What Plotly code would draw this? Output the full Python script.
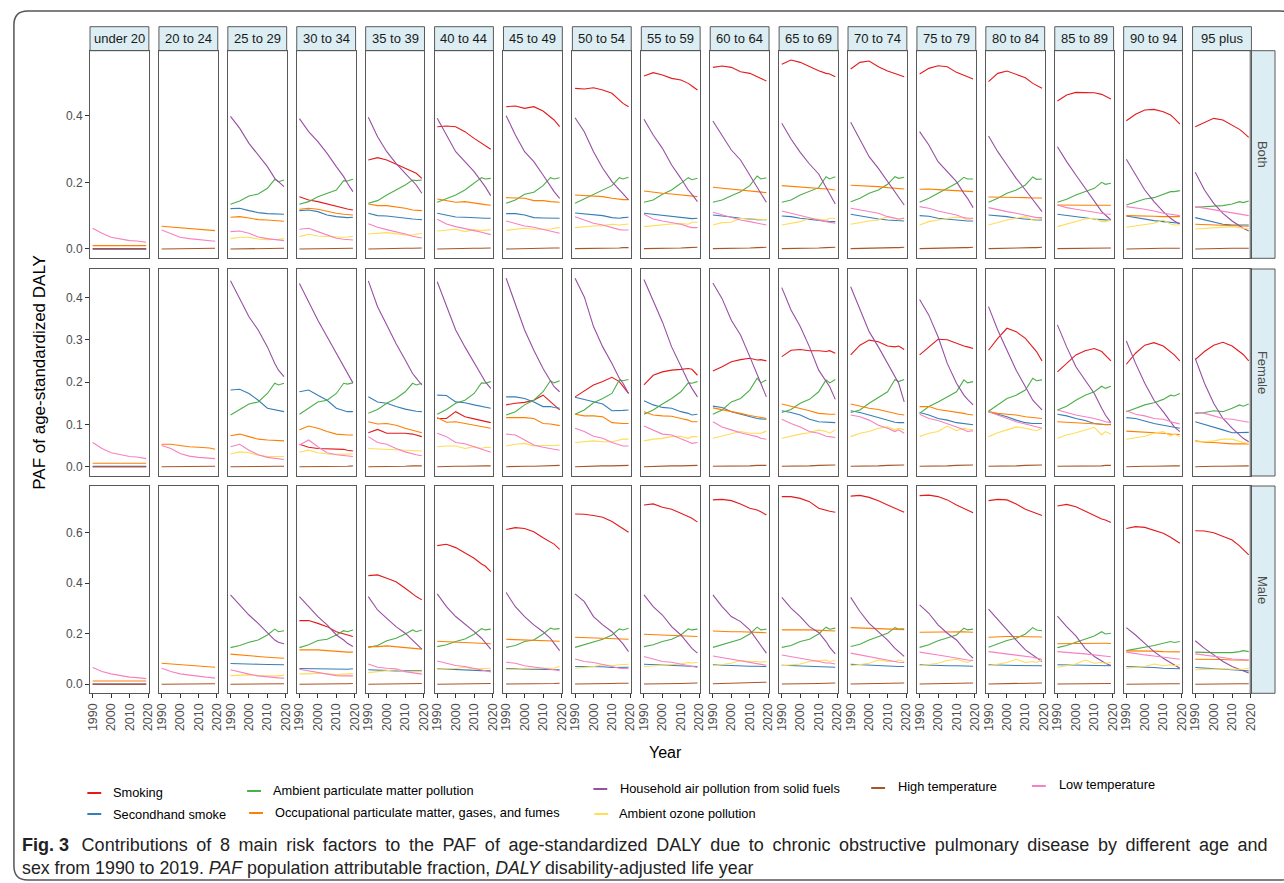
import plotly.graph_objects as go

W, H = 1284, 883

YEARS = [1990, 1995, 2000, 2005, 2010, 2014, 2016, 2019]
AGE_GROUPS = ["under 20", "20 to 24", "25 to 29", "30 to 34", "35 to 39", "40 to 44",
              "45 to 49", "50 to 54", "55 to 59", "60 to 64", "65 to 69", "70 to 74",
              "75 to 79", "80 to 84", "85 to 89", "90 to 94", "95 plus"]
SEXES = ["Both", "Female", "Male"]
RISKS = ["Smoking", "Secondhand smoke", "Ambient particulate matter pollution",
         "Occupational particulate matter, gases, and fumes",
         "Household air pollution from solid fuels", "Ambient ozone pollution",
         "High temperature", "Low temperature"]
COLORS = ["#E41A1C", "#377EB8", "#4DAF4A", "#FF7F00", "#984EA3", "#FFDD55", "#A65628", "#F781BF"]
X_TICKS = [1990, 2000, 2010, 2020]
Y_TICKS = {"Both": [0.0, 0.2, 0.4], "Female": [0.0, 0.1, 0.2, 0.3, 0.4], "Male": [0.0, 0.2, 0.4, 0.6]}

# ---------------- Both ----------------
BOTH_SMOKING = [None, None, None,
    [0.157,0.147,0.142,0.135,0.127,0.122,0.120,0.117],
    [0.267,0.274,0.267,0.255,0.242,0.232,0.227,0.212],
    [0.367,0.369,0.367,0.352,0.332,0.317,0.310,0.299],
    [0.427,0.429,0.422,0.427,0.414,0.397,0.387,0.367],
    [0.482,0.480,0.484,0.477,0.467,0.447,0.437,0.427],
    [0.519,0.529,0.522,0.512,0.507,0.497,0.489,0.477],
    [0.545,0.549,0.545,0.532,0.527,0.517,0.512,0.504],
    [0.554,0.567,0.560,0.547,0.535,0.527,0.525,0.517],
    [0.540,0.560,0.564,0.547,0.534,0.527,0.524,0.517],
    [0.525,0.542,0.550,0.547,0.530,0.522,0.517,0.510],
    [0.502,0.527,0.534,0.524,0.514,0.497,0.490,0.482],
    [0.444,0.462,0.470,0.470,0.469,0.464,0.459,0.450],
    [0.385,0.404,0.417,0.419,0.412,0.402,0.392,0.375],
    [0.367,0.380,0.392,0.387,0.372,0.359,0.350,0.335]]
BOTH_SECONDHAND = [
    [0.001,0.001,0.001,0.001,0.001,0.001,0.001,0.001], None,
    [0.121,0.122,0.115,0.109,0.106,0.105,0.105,0.104],
    [0.115,0.117,0.112,0.102,0.097,0.095,0.094,0.095],
    [0.107,0.100,0.099,0.095,0.092,0.090,0.089,0.088],
    [0.107,0.102,0.096,0.095,0.093,0.092,0.092,0.092],
    [0.106,0.106,0.102,0.094,0.093,0.092,0.092,0.092],
    [0.108,0.106,0.104,0.100,0.094,0.092,0.094,0.095],
    [0.107,0.104,0.100,0.097,0.094,0.092,0.091,0.092],
    [0.102,0.100,0.096,0.092,0.089,0.088,0.088,0.088],
    [0.099,0.097,0.092,0.089,0.084,0.082,0.082,0.082],
    [0.104,0.099,0.094,0.090,0.087,0.085,0.084,0.084],
    [0.100,0.098,0.092,0.089,0.086,0.084,0.084,0.084],
    [0.102,0.100,0.097,0.092,0.089,0.087,0.087,0.087],
    [0.104,0.100,0.097,0.094,0.090,0.088,0.087,0.086],
    [0.099,0.094,0.089,0.085,0.082,0.080,0.078,0.077],
    [0.094,0.087,0.080,0.074,0.072,0.071,0.071,0.072]]
BOTH_AMBIENT_PM = [None, None,
    [0.134,0.144,0.159,0.165,0.182,0.209,0.202,0.207],
    [0.134,0.142,0.157,0.167,0.177,0.205,0.204,0.209],
    [0.137,0.145,0.162,0.177,0.192,0.207,0.205,0.207],
    [0.140,0.152,0.162,0.177,0.197,0.214,0.210,0.212],
    [0.137,0.147,0.164,0.170,0.190,0.214,0.210,0.214],
    [0.137,0.150,0.162,0.177,0.190,0.214,0.210,0.215],
    [0.140,0.147,0.164,0.177,0.197,0.214,0.208,0.212],
    [0.140,0.147,0.160,0.172,0.190,0.219,0.210,0.214],
    [0.140,0.147,0.162,0.172,0.184,0.217,0.210,0.217],
    [0.142,0.152,0.167,0.177,0.194,0.217,0.212,0.215],
    [0.140,0.152,0.167,0.182,0.197,0.215,0.210,0.210],
    [0.140,0.152,0.167,0.177,0.192,0.216,0.209,0.210],
    [0.140,0.149,0.162,0.172,0.182,0.200,0.194,0.197],
    [0.132,0.142,0.150,0.154,0.164,0.172,0.172,0.175],
    [0.125,0.127,0.129,0.130,0.135,0.142,0.139,0.144]]
BOTH_OCCUPATIONAL = [
    [0.010,0.010,0.011,0.011,0.011,0.010,0.010,0.010],
    [0.068,0.066,0.062,0.061,0.060,0.058,0.057,0.055],
    [0.095,0.097,0.093,0.088,0.087,0.085,0.084,0.083],
    [0.119,0.122,0.119,0.112,0.107,0.104,0.103,0.102],
    [0.135,0.130,0.130,0.127,0.122,0.117,0.116,0.115],
    [0.150,0.144,0.140,0.142,0.137,0.134,0.133,0.131],
    [0.154,0.152,0.152,0.145,0.145,0.142,0.142,0.140],
    [0.162,0.160,0.157,0.157,0.152,0.149,0.148,0.148],
    [0.174,0.170,0.167,0.165,0.162,0.160,0.159,0.157],
    [0.185,0.182,0.179,0.177,0.174,0.172,0.170,0.169],
    [0.190,0.188,0.187,0.185,0.182,0.180,0.179,0.177],
    [0.191,0.190,0.188,0.187,0.184,0.182,0.181,0.180],
    [0.179,0.180,0.178,0.177,0.176,0.174,0.173,0.172],
    [0.156,0.156,0.155,0.154,0.154,0.153,0.153,0.153],
    [0.132,0.131,0.131,0.131,0.131,0.131,0.131,0.131],
    [0.100,0.100,0.099,0.098,0.097,0.097,0.097,0.097],
    [0.074,0.073,0.072,0.071,0.070,0.069,0.069,0.068]]
BOTH_HOUSEHOLD = [
    [0.000,0.000,0.000,0.000,0.000,0.000,0.000,0.000], None,
    [0.398,0.362,0.317,0.282,0.247,0.212,0.202,0.187],
    [0.391,0.352,0.322,0.287,0.247,0.217,0.197,0.172],
    [0.395,0.337,0.292,0.257,0.227,0.202,0.192,0.167],
    [0.392,0.342,0.292,0.262,0.232,0.202,0.187,0.160],
    [0.400,0.342,0.292,0.262,0.222,0.187,0.172,0.152],
    [0.394,0.352,0.292,0.242,0.202,0.177,0.167,0.147],
    [0.389,0.342,0.302,0.252,0.212,0.177,0.164,0.142],
    [0.384,0.342,0.297,0.267,0.222,0.182,0.167,0.140],
    [0.377,0.330,0.290,0.255,0.225,0.185,0.165,0.135],
    [0.380,0.327,0.277,0.242,0.202,0.172,0.157,0.132],
    [0.352,0.312,0.262,0.232,0.202,0.167,0.152,0.124],
    [0.339,0.292,0.252,0.212,0.177,0.147,0.132,0.112],
    [0.307,0.262,0.222,0.182,0.142,0.112,0.102,0.087],
    [0.269,0.222,0.177,0.142,0.112,0.092,0.084,0.075],
    [0.230,0.177,0.137,0.107,0.084,0.069,0.062,0.054]]
BOTH_OZONE = [None, None,
    [0.031,0.035,0.035,0.030,0.028,0.028,0.029,0.031],
    [0.037,0.044,0.039,0.037,0.035,0.035,0.036,0.038],
    [0.045,0.046,0.049,0.046,0.042,0.042,0.044,0.047],
    [0.054,0.057,0.059,0.052,0.058,0.055,0.057,0.058],
    [0.056,0.059,0.062,0.059,0.059,0.060,0.062,0.064],
    [0.064,0.067,0.069,0.070,0.074,0.072,0.074,0.075],
    [0.067,0.070,0.074,0.075,0.076,0.074,0.080,0.080],
    [0.072,0.079,0.080,0.092,0.090,0.090,0.089,0.088],
    [0.072,0.077,0.082,0.092,0.090,0.087,0.092,0.092],
    [0.074,0.080,0.084,0.087,0.097,0.092,0.087,0.094],
    [0.072,0.082,0.087,0.092,0.096,0.092,0.087,0.092],
    [0.072,0.080,0.087,0.092,0.097,0.087,0.087,0.092],
    [0.067,0.074,0.082,0.090,0.092,0.082,0.082,0.087],
    [0.065,0.069,0.072,0.077,0.087,0.075,0.072,0.072],
    [0.060,0.062,0.065,0.067,0.067,0.064,0.062,0.060]]
BOTH_HIGH_TEMP = [
    [0.000,0.000,0.000,0.000,0.000,0.000,0.000,0.000],
    [0.000,0.000,0.001,0.001,0.001,0.002,0.002,0.002],
    [0.000,0.000,0.001,0.001,0.001,0.002,0.002,0.002],
    [0.000,0.000,0.001,0.001,0.001,0.002,0.002,0.002],
    [0.000,0.001,0.001,0.001,0.002,0.002,0.002,0.003],
    [0.000,0.001,0.001,0.002,0.002,0.002,0.002,0.003],
    [0.000,0.001,0.001,0.002,0.002,0.003,0.003,0.003],
    [0.001,0.001,0.002,0.002,0.003,0.003,0.004,0.004],
    [0.001,0.001,0.002,0.002,0.003,0.004,0.004,0.005],
    [0.001,0.001,0.002,0.003,0.003,0.004,0.004,0.005],
    [0.001,0.001,0.002,0.003,0.003,0.004,0.004,0.005],
    [0.001,0.002,0.002,0.003,0.003,0.004,0.004,0.005],
    [0.001,0.002,0.002,0.003,0.003,0.004,0.004,0.005],
    [0.001,0.002,0.002,0.003,0.003,0.004,0.004,0.005],
    [0.001,0.001,0.002,0.002,0.002,0.003,0.003,0.003],
    [0.000,0.001,0.001,0.001,0.002,0.002,0.002,0.002],
    [0.000,0.001,0.001,0.001,0.002,0.002,0.002,0.002]]
BOTH_LOW_TEMP = [
    [0.062,0.047,0.035,0.029,0.025,0.024,0.023,0.020],
    [0.057,0.047,0.035,0.031,0.028,0.025,0.025,0.023],
    [0.052,0.054,0.047,0.036,0.031,0.028,0.027,0.025],
    [0.059,0.062,0.052,0.042,0.032,0.029,0.028,0.027],
    [0.076,0.065,0.058,0.052,0.045,0.038,0.036,0.033],
    [0.089,0.075,0.067,0.062,0.055,0.050,0.048,0.043],
    [0.084,0.077,0.069,0.065,0.059,0.054,0.052,0.047],
    [0.097,0.087,0.077,0.072,0.064,0.058,0.057,0.057],
    [0.104,0.090,0.084,0.079,0.074,0.067,0.064,0.064],
    [0.110,0.102,0.095,0.087,0.082,0.077,0.075,0.072],
    [0.114,0.107,0.099,0.094,0.087,0.082,0.080,0.077],
    [0.122,0.117,0.112,0.107,0.097,0.092,0.090,0.092],
    [0.127,0.122,0.114,0.109,0.102,0.094,0.092,0.092],
    [0.124,0.117,0.112,0.107,0.102,0.097,0.094,0.094],
    [0.132,0.124,0.119,0.114,0.110,0.107,0.105,0.104],
    [0.127,0.124,0.119,0.114,0.107,0.104,0.102,0.100],
    [0.127,0.122,0.117,0.112,0.107,0.104,0.102,0.100]]

# ---------------- Female ----------------
FEMALE_SMOKING = [None, None, None,
    [0.053,0.046,0.043,0.042,0.042,0.041,0.039,0.037],
    [0.080,0.088,0.079,0.079,0.079,0.077,0.075,0.071],
    [0.114,0.114,0.130,0.118,0.113,0.109,0.106,0.104],
    [0.146,0.150,0.152,0.157,0.169,0.153,0.146,0.134],
    [0.165,0.179,0.193,0.201,0.211,0.201,0.189,0.173],
    [0.193,0.216,0.224,0.228,0.230,0.232,0.230,0.216],
    [0.226,0.236,0.248,0.253,0.256,0.252,0.253,0.250],
    [0.260,0.275,0.277,0.274,0.274,0.272,0.274,0.268],
    [0.264,0.287,0.299,0.295,0.285,0.283,0.285,0.277],
    [0.264,0.283,0.301,0.300,0.291,0.285,0.283,0.279],
    [0.275,0.303,0.327,0.319,0.303,0.283,0.272,0.250],
    [0.224,0.244,0.264,0.274,0.279,0.272,0.264,0.250],
    [0.242,0.268,0.287,0.293,0.285,0.272,0.264,0.250],
    [0.253,0.272,0.287,0.294,0.285,0.272,0.265,0.250]]
FEMALE_SECONDHAND = [
    [0.001,0.001,0.001,0.001,0.001,0.001,0.001,0.001], None,
    [0.181,0.183,0.173,0.157,0.138,0.134,0.132,0.130],
    [0.177,0.181,0.169,0.157,0.138,0.132,0.130,0.130],
    [0.165,0.153,0.150,0.142,0.136,0.132,0.131,0.130],
    [0.169,0.168,0.153,0.151,0.146,0.142,0.140,0.138],
    [0.165,0.165,0.161,0.153,0.142,0.142,0.140,0.138],
    [0.164,0.159,0.153,0.148,0.132,0.132,0.133,0.134],
    [0.156,0.146,0.140,0.138,0.130,0.126,0.122,0.124],
    [0.143,0.140,0.130,0.124,0.118,0.114,0.113,0.112],
    [0.132,0.128,0.122,0.112,0.106,0.105,0.105,0.104],
    [0.132,0.128,0.122,0.116,0.109,0.105,0.104,0.104],
    [0.128,0.122,0.114,0.110,0.104,0.101,0.100,0.099],
    [0.130,0.124,0.118,0.110,0.104,0.102,0.102,0.102],
    [0.124,0.120,0.114,0.109,0.102,0.100,0.099,0.100],
    [0.116,0.114,0.108,0.102,0.098,0.094,0.093,0.091],
    [0.106,0.100,0.093,0.087,0.080,0.080,0.080,0.081]]
FEMALE_AMBIENT_PM = [None, None,
    [0.122,0.134,0.148,0.153,0.173,0.197,0.193,0.197],
    [0.124,0.138,0.153,0.157,0.173,0.197,0.195,0.198],
    [0.126,0.135,0.150,0.161,0.177,0.197,0.193,0.197],
    [0.124,0.135,0.150,0.157,0.173,0.198,0.197,0.201],
    [0.122,0.130,0.146,0.157,0.177,0.203,0.198,0.203],
    [0.124,0.134,0.151,0.161,0.173,0.205,0.203,0.206],
    [0.124,0.134,0.148,0.161,0.177,0.198,0.197,0.201],
    [0.124,0.134,0.153,0.161,0.181,0.209,0.198,0.205],
    [0.128,0.135,0.150,0.159,0.177,0.205,0.198,0.206],
    [0.128,0.134,0.150,0.164,0.177,0.206,0.201,0.206],
    [0.126,0.142,0.153,0.165,0.177,0.205,0.198,0.201],
    [0.131,0.146,0.161,0.169,0.181,0.209,0.203,0.205],
    [0.134,0.143,0.157,0.169,0.177,0.190,0.185,0.190],
    [0.130,0.138,0.146,0.151,0.159,0.169,0.167,0.173],
    [0.126,0.128,0.132,0.130,0.138,0.146,0.143,0.148]]
FEMALE_OCCUPATIONAL = [
    [0.008,0.008,0.009,0.009,0.009,0.009,0.009,0.008],
    [0.053,0.053,0.050,0.047,0.046,0.045,0.044,0.041],
    [0.073,0.077,0.071,0.065,0.063,0.062,0.062,0.061],
    [0.087,0.096,0.091,0.083,0.077,0.075,0.075,0.075],
    [0.106,0.101,0.102,0.098,0.091,0.086,0.084,0.080],
    [0.116,0.105,0.106,0.102,0.098,0.094,0.093,0.091],
    [0.116,0.116,0.116,0.114,0.102,0.101,0.100,0.097],
    [0.124,0.120,0.120,0.118,0.104,0.102,0.102,0.102],
    [0.130,0.122,0.120,0.119,0.114,0.110,0.106,0.106],
    [0.139,0.135,0.130,0.126,0.121,0.118,0.116,0.114],
    [0.148,0.143,0.138,0.132,0.126,0.124,0.124,0.124],
    [0.148,0.143,0.138,0.135,0.130,0.125,0.124,0.122],
    [0.142,0.142,0.135,0.132,0.130,0.126,0.124,0.122],
    [0.130,0.126,0.124,0.122,0.118,0.116,0.115,0.114],
    [0.106,0.105,0.104,0.103,0.101,0.100,0.100,0.099],
    [0.084,0.083,0.081,0.080,0.079,0.077,0.077,0.076],
    [0.061,0.058,0.057,0.055,0.054,0.054,0.054,0.054]]
FEMALE_HOUSEHOLD = [
    [0.000,0.000,0.000,0.000,0.000,0.000,0.000,0.000], None,
    [0.439,0.397,0.354,0.323,0.283,0.244,0.228,0.213],
    [0.433,0.390,0.346,0.307,0.268,0.236,0.220,0.198],
    [0.439,0.378,0.335,0.291,0.252,0.220,0.209,0.193],
    [0.437,0.378,0.323,0.283,0.244,0.216,0.201,0.185],
    [0.445,0.386,0.323,0.275,0.232,0.203,0.189,0.177],
    [0.445,0.401,0.331,0.283,0.244,0.209,0.197,0.173],
    [0.442,0.394,0.342,0.283,0.236,0.201,0.185,0.165],
    [0.434,0.397,0.346,0.311,0.260,0.220,0.197,0.165],
    [0.423,0.370,0.331,0.283,0.228,0.201,0.189,0.159],
    [0.425,0.370,0.319,0.283,0.244,0.213,0.197,0.153],
    [0.395,0.358,0.307,0.244,0.197,0.169,0.159,0.146],
    [0.378,0.323,0.275,0.228,0.189,0.157,0.148,0.134],
    [0.335,0.283,0.236,0.205,0.173,0.138,0.122,0.104],
    [0.297,0.244,0.197,0.157,0.130,0.106,0.094,0.083],
    [0.256,0.197,0.150,0.114,0.091,0.075,0.067,0.059]]
FEMALE_OZONE = [None, None,
    [0.030,0.035,0.033,0.027,0.024,0.024,0.024,0.024],
    [0.034,0.039,0.033,0.030,0.029,0.029,0.029,0.030],
    [0.043,0.042,0.041,0.039,0.039,0.038,0.037,0.037],
    [0.047,0.049,0.049,0.043,0.047,0.043,0.046,0.045],
    [0.049,0.053,0.055,0.049,0.050,0.049,0.050,0.051],
    [0.057,0.059,0.061,0.059,0.059,0.063,0.065,0.065],
    [0.061,0.065,0.067,0.071,0.072,0.067,0.071,0.071],
    [0.067,0.072,0.077,0.083,0.079,0.080,0.079,0.084],
    [0.067,0.072,0.077,0.080,0.087,0.083,0.079,0.087],
    [0.071,0.079,0.083,0.091,0.094,0.087,0.091,0.087],
    [0.071,0.079,0.083,0.096,0.085,0.091,0.089,0.087],
    [0.071,0.080,0.087,0.094,0.091,0.087,0.085,0.091],
    [0.067,0.075,0.080,0.087,0.093,0.075,0.083,0.077],
    [0.065,0.069,0.072,0.079,0.083,0.072,0.077,0.071],
    [0.059,0.059,0.061,0.065,0.065,0.059,0.057,0.055]]
FEMALE_HIGH_TEMP = [
    [0.000,0.000,0.000,0.000,0.000,0.000,0.000,0.000],
    [0.000,0.000,0.000,0.001,0.001,0.001,0.001,0.001],
    [0.000,0.000,0.000,0.001,0.001,0.001,0.001,0.001],
    [0.000,0.000,0.001,0.001,0.001,0.001,0.001,0.002],
    [0.000,0.000,0.001,0.001,0.001,0.002,0.002,0.002],
    [0.000,0.001,0.001,0.001,0.002,0.002,0.002,0.002],
    [0.000,0.001,0.001,0.001,0.002,0.002,0.002,0.003],
    [0.000,0.001,0.001,0.002,0.002,0.002,0.003,0.003],
    [0.000,0.001,0.001,0.002,0.002,0.003,0.003,0.003],
    [0.001,0.001,0.001,0.002,0.002,0.003,0.003,0.003],
    [0.001,0.001,0.002,0.002,0.003,0.003,0.003,0.004],
    [0.001,0.001,0.002,0.002,0.003,0.003,0.004,0.004],
    [0.001,0.001,0.002,0.002,0.003,0.003,0.004,0.004],
    [0.001,0.001,0.002,0.002,0.003,0.003,0.003,0.004],
    [0.001,0.001,0.001,0.002,0.002,0.002,0.003,0.003],
    [0.000,0.001,0.001,0.001,0.002,0.002,0.002,0.002],
    [0.000,0.001,0.001,0.001,0.001,0.002,0.002,0.002]]
FEMALE_LOW_TEMP = [
    [0.057,0.043,0.033,0.028,0.024,0.023,0.022,0.019],
    [0.050,0.043,0.031,0.025,0.022,0.021,0.020,0.019],
    [0.047,0.053,0.039,0.028,0.022,0.020,0.019,0.017],
    [0.051,0.063,0.047,0.033,0.028,0.026,0.024,0.024],
    [0.071,0.057,0.053,0.043,0.035,0.030,0.028,0.026],
    [0.079,0.071,0.057,0.054,0.047,0.041,0.038,0.034],
    [0.077,0.075,0.063,0.051,0.046,0.043,0.041,0.039],
    [0.091,0.083,0.072,0.067,0.057,0.051,0.049,0.049],
    [0.096,0.087,0.077,0.075,0.067,0.059,0.055,0.057],
    [0.106,0.094,0.087,0.080,0.075,0.071,0.067,0.065],
    [0.112,0.102,0.094,0.083,0.079,0.072,0.071,0.069],
    [0.122,0.118,0.110,0.098,0.091,0.083,0.087,0.079],
    [0.124,0.114,0.109,0.102,0.094,0.087,0.083,0.085],
    [0.130,0.122,0.114,0.106,0.101,0.096,0.094,0.091],
    [0.134,0.128,0.122,0.118,0.114,0.109,0.106,0.104],
    [0.132,0.124,0.120,0.114,0.112,0.106,0.104,0.101],
    [0.128,0.126,0.120,0.114,0.112,0.109,0.106,0.105]]

# ---------------- Male ----------------
MALE_SMOKING = [None, None, None,
    [0.252,0.252,0.241,0.228,0.208,0.199,0.195,0.189],
    [0.430,0.433,0.420,0.406,0.380,0.356,0.347,0.334],
    [0.549,0.554,0.541,0.521,0.499,0.476,0.468,0.446],
    [0.613,0.620,0.617,0.604,0.580,0.565,0.555,0.534],
    [0.674,0.673,0.668,0.661,0.644,0.624,0.617,0.602],
    [0.710,0.714,0.701,0.693,0.677,0.664,0.657,0.642],
    [0.730,0.732,0.727,0.714,0.697,0.690,0.683,0.670],
    [0.743,0.743,0.736,0.723,0.697,0.687,0.685,0.681],
    [0.745,0.748,0.740,0.727,0.710,0.697,0.690,0.681],
    [0.747,0.749,0.743,0.730,0.710,0.697,0.690,0.679],
    [0.727,0.732,0.730,0.714,0.693,0.681,0.674,0.668],
    [0.706,0.712,0.703,0.686,0.666,0.654,0.650,0.640],
    [0.617,0.624,0.621,0.611,0.598,0.582,0.571,0.558],
    [0.608,0.607,0.600,0.587,0.571,0.548,0.534,0.512]]
MALE_SECONDHAND = [
    [0.001,0.001,0.001,0.001,0.001,0.001,0.001,0.001], None,
    [0.082,0.082,0.080,0.079,0.078,0.078,0.078,0.077],
    [0.062,0.061,0.061,0.059,0.059,0.059,0.059,0.061],
    [0.057,0.055,0.054,0.053,0.053,0.053,0.053,0.053],
    [0.061,0.059,0.058,0.057,0.055,0.054,0.054,0.053],
    [0.062,0.061,0.059,0.058,0.057,0.057,0.057,0.057],
    [0.070,0.070,0.070,0.069,0.066,0.066,0.066,0.067],
    [0.079,0.077,0.075,0.074,0.073,0.071,0.070,0.070],
    [0.077,0.075,0.074,0.073,0.071,0.071,0.071,0.070],
    [0.075,0.074,0.073,0.070,0.069,0.068,0.068,0.067],
    [0.079,0.077,0.074,0.073,0.071,0.070,0.070,0.070],
    [0.077,0.075,0.074,0.073,0.073,0.072,0.071,0.071],
    [0.077,0.077,0.075,0.074,0.073,0.073,0.073,0.073],
    [0.077,0.077,0.075,0.075,0.074,0.073,0.073,0.073],
    [0.070,0.069,0.067,0.066,0.063,0.062,0.061,0.061],
    [0.066,0.063,0.061,0.059,0.057,0.055,0.054,0.053]]
MALE_AMBIENT_PM = [None, None,
    [0.145,0.153,0.166,0.175,0.195,0.218,0.208,0.212],
    [0.145,0.156,0.173,0.178,0.195,0.212,0.208,0.215],
    [0.146,0.153,0.172,0.182,0.199,0.215,0.208,0.215],
    [0.149,0.156,0.169,0.179,0.198,0.220,0.215,0.218],
    [0.146,0.153,0.169,0.175,0.199,0.222,0.218,0.220],
    [0.146,0.156,0.169,0.178,0.195,0.219,0.215,0.222],
    [0.149,0.156,0.169,0.178,0.195,0.219,0.215,0.218],
    [0.146,0.156,0.169,0.178,0.199,0.226,0.215,0.218],
    [0.146,0.153,0.169,0.178,0.199,0.226,0.218,0.222],
    [0.149,0.158,0.175,0.187,0.202,0.224,0.218,0.219],
    [0.146,0.156,0.172,0.182,0.195,0.222,0.215,0.218],
    [0.146,0.160,0.173,0.182,0.199,0.224,0.215,0.212],
    [0.145,0.153,0.166,0.178,0.191,0.208,0.199,0.202],
    [0.133,0.139,0.146,0.153,0.162,0.169,0.165,0.169],
    [0.127,0.125,0.125,0.125,0.125,0.129,0.133,0.129]]
MALE_OCCUPATIONAL = [
    [0.013,0.013,0.015,0.015,0.015,0.014,0.014,0.013],
    [0.083,0.080,0.077,0.075,0.073,0.071,0.070,0.067],
    [0.119,0.117,0.113,0.110,0.107,0.105,0.104,0.103],
    [0.136,0.137,0.136,0.133,0.129,0.128,0.127,0.127],
    [0.149,0.149,0.152,0.149,0.146,0.142,0.141,0.139],
    [0.170,0.168,0.166,0.165,0.164,0.162,0.162,0.160],
    [0.178,0.177,0.175,0.174,0.173,0.172,0.172,0.170],
    [0.186,0.185,0.183,0.182,0.181,0.180,0.179,0.178],
    [0.198,0.197,0.195,0.194,0.193,0.192,0.190,0.189],
    [0.211,0.209,0.208,0.208,0.207,0.207,0.205,0.204],
    [0.215,0.214,0.215,0.215,0.214,0.213,0.211,0.211],
    [0.224,0.223,0.222,0.221,0.219,0.218,0.218,0.216],
    [0.206,0.207,0.208,0.208,0.210,0.208,0.207,0.206],
    [0.186,0.188,0.189,0.189,0.189,0.188,0.188,0.187],
    [0.160,0.161,0.162,0.162,0.162,0.162,0.162,0.161],
    [0.132,0.132,0.131,0.131,0.129,0.129,0.129,0.128],
    [0.099,0.099,0.098,0.098,0.096,0.096,0.096,0.095]]
MALE_HOUSEHOLD = [
    [0.000,0.000,0.000,0.000,0.000,0.000,0.000,0.000], None,
    [0.354,0.314,0.274,0.241,0.202,0.175,0.166,0.160],
    [0.347,0.307,0.268,0.235,0.195,0.175,0.162,0.149],
    [0.347,0.294,0.261,0.228,0.202,0.173,0.160,0.139],
    [0.358,0.307,0.268,0.239,0.208,0.182,0.164,0.139],
    [0.363,0.307,0.268,0.235,0.208,0.182,0.162,0.133],
    [0.358,0.327,0.268,0.235,0.208,0.178,0.160,0.129],
    [0.354,0.307,0.274,0.228,0.195,0.160,0.142,0.123],
    [0.354,0.307,0.268,0.248,0.215,0.175,0.156,0.123],
    [0.344,0.301,0.268,0.228,0.205,0.169,0.146,0.120],
    [0.344,0.288,0.241,0.208,0.175,0.142,0.129,0.110],
    [0.314,0.281,0.235,0.202,0.175,0.142,0.123,0.103],
    [0.297,0.255,0.215,0.175,0.136,0.116,0.107,0.090],
    [0.270,0.228,0.191,0.142,0.110,0.090,0.083,0.074],
    [0.224,0.195,0.162,0.129,0.103,0.086,0.077,0.063],
    [0.172,0.142,0.116,0.090,0.070,0.057,0.051,0.044]]
MALE_OZONE = [None, None,
    [0.034,0.036,0.037,0.034,0.033,0.033,0.033,0.036],
    [0.041,0.041,0.044,0.040,0.038,0.040,0.040,0.042],
    [0.046,0.050,0.053,0.057,0.050,0.049,0.049,0.050],
    [0.059,0.059,0.062,0.067,0.059,0.062,0.063,0.063],
    [0.059,0.059,0.063,0.063,0.063,0.066,0.063,0.070],
    [0.063,0.067,0.070,0.077,0.073,0.077,0.077,0.079],
    [0.070,0.073,0.075,0.079,0.080,0.086,0.084,0.086],
    [0.073,0.077,0.083,0.094,0.090,0.090,0.087,0.090],
    [0.073,0.077,0.080,0.090,0.094,0.096,0.090,0.094],
    [0.073,0.079,0.083,0.096,0.090,0.090,0.096,0.090],
    [0.073,0.079,0.083,0.094,0.099,0.090,0.086,0.096],
    [0.073,0.080,0.086,0.099,0.086,0.090,0.086,0.096],
    [0.067,0.073,0.080,0.096,0.083,0.086,0.083,0.086],
    [0.063,0.067,0.070,0.080,0.073,0.077,0.073,0.077],
    [0.057,0.059,0.059,0.061,0.059,0.059,0.059,0.063]]
MALE_HIGH_TEMP = [
    [0.000,0.000,0.000,0.000,0.000,0.000,0.000,0.000],
    [0.000,0.000,0.001,0.001,0.001,0.002,0.002,0.002],
    [0.000,0.000,0.001,0.001,0.001,0.002,0.002,0.002],
    [0.000,0.001,0.001,0.001,0.002,0.002,0.002,0.003],
    [0.000,0.001,0.001,0.002,0.002,0.003,0.003,0.003],
    [0.000,0.001,0.001,0.002,0.002,0.003,0.003,0.003],
    [0.001,0.001,0.002,0.002,0.003,0.003,0.003,0.004],
    [0.001,0.001,0.002,0.002,0.003,0.004,0.004,0.004],
    [0.001,0.001,0.002,0.003,0.003,0.004,0.004,0.005],
    [0.002,0.003,0.004,0.005,0.006,0.007,0.007,0.008],
    [0.001,0.001,0.002,0.003,0.003,0.004,0.004,0.005],
    [0.001,0.002,0.002,0.003,0.003,0.004,0.004,0.005],
    [0.001,0.002,0.002,0.003,0.004,0.004,0.005,0.005],
    [0.001,0.002,0.002,0.003,0.003,0.004,0.004,0.005],
    [0.001,0.001,0.002,0.002,0.002,0.003,0.003,0.003],
    [0.000,0.001,0.001,0.001,0.002,0.002,0.002,0.002],
    [0.000,0.001,0.001,0.001,0.002,0.002,0.002,0.002]]
MALE_LOW_TEMP = [
    [0.066,0.050,0.041,0.033,0.028,0.026,0.025,0.022],
    [0.063,0.050,0.041,0.036,0.030,0.028,0.027,0.024],
    [0.057,0.047,0.040,0.033,0.028,0.026,0.025,0.024],
    [0.059,0.053,0.044,0.040,0.034,0.033,0.033,0.033],
    [0.080,0.067,0.063,0.061,0.050,0.045,0.043,0.040],
    [0.092,0.083,0.074,0.070,0.063,0.057,0.054,0.049],
    [0.087,0.083,0.073,0.067,0.063,0.059,0.057,0.053],
    [0.100,0.090,0.086,0.079,0.070,0.063,0.062,0.061],
    [0.110,0.100,0.090,0.087,0.080,0.074,0.070,0.066],
    [0.112,0.106,0.099,0.094,0.086,0.081,0.078,0.075],
    [0.116,0.110,0.103,0.096,0.090,0.084,0.084,0.080],
    [0.123,0.116,0.110,0.103,0.094,0.090,0.087,0.086],
    [0.127,0.120,0.116,0.110,0.103,0.099,0.096,0.094],
    [0.129,0.125,0.120,0.116,0.112,0.107,0.103,0.099],
    [0.129,0.125,0.123,0.120,0.116,0.112,0.110,0.109],
    [0.127,0.120,0.116,0.112,0.107,0.103,0.100,0.099],
    [0.120,0.116,0.110,0.106,0.100,0.098,0.096,0.096]]

SERIES_BY_SEX = {
    "Both": [BOTH_SMOKING, BOTH_SECONDHAND, BOTH_AMBIENT_PM, BOTH_OCCUPATIONAL,
             BOTH_HOUSEHOLD, BOTH_OZONE, BOTH_HIGH_TEMP, BOTH_LOW_TEMP],
    "Female": [FEMALE_SMOKING, FEMALE_SECONDHAND, FEMALE_AMBIENT_PM, FEMALE_OCCUPATIONAL,
               FEMALE_HOUSEHOLD, FEMALE_OZONE, FEMALE_HIGH_TEMP, FEMALE_LOW_TEMP],
    "Male": [MALE_SMOKING, MALE_SECONDHAND, MALE_AMBIENT_PM, MALE_OCCUPATIONAL,
             MALE_HOUSEHOLD, MALE_OZONE, MALE_HIGH_TEMP, MALE_LOW_TEMP],
}

CAPTION_LINE_1 = ("Contributions of 8 main risk factors to the PAF of age-standardized DALY due to "
                  "chronic obstructive pulmonary disease by different age and")
CAPTION_LINE_2 = ("sex from 1990 to 2019. <i>PAF</i> population attributable fraction, "
                  "<i>DALY</i> disability-adjusted life year")

# ---------------- layout geometry (pixels) ----------------
PANEL_LEFT0 = 86.7
PITCH = 69.45
PANEL_W = 59.3
ROW_TOP = [50.7, 269.0, 486.0]
ROW_BOT = [258.3, 476.0, 693.3]
STRIP_TOP = 26.7
RSTRIP_L, RSTRIP_R = 1256.0, 1281.0
Y_RANGES = {"Both": [-0.028, 0.595], "Female": [-0.022, 0.467], "Male": [-0.036, 0.785]}
X_RANGE = [1988.55, 2020.45]

FONT = "Liberation Sans, Arial, Helvetica, sans-serif"
AXIS_GREY = "#4D4D4D"
BORDER = "#595959"
STRIP_FILL = "#DCEEF3"


def fx(px):
    return px / W


def fy(py):
    return 1 - py / H


fig = go.Figure()
layout_axes = {}
shapes = []
annotations = []

for r, sex in enumerate(SEXES):
    for c, age in enumerate(AGE_GROUPS):
        k = r * len(AGE_GROUPS) + c + 1
        xname = "x" if k == 1 else f"x{k}"
        yname = "y" if k == 1 else f"y{k}"
        left = PANEL_LEFT0 + c * PITCH
        for s, series in enumerate(SERIES_BY_SEX[sex]):
            vals = series[c]
            if vals is None:
                continue
            fig.add_trace(go.Scatter(
                x=YEARS, y=vals, mode="lines", xaxis=xname, yaxis=yname,
                line=dict(color=COLORS[s], width=1.1), name=RISKS[s],
                showlegend=False, hoverinfo="skip"))
        bottom_row = r == len(SEXES) - 1
        first_col = c == 0
        layout_axes["xaxis" if k == 1 else f"xaxis{k}"] = dict(
            domain=[fx(left), fx(left + PANEL_W)], range=X_RANGE, anchor=yname,
            showline=True, mirror=True, linecolor=BORDER, linewidth=1,
            showgrid=False, zeroline=False, tickvals=X_TICKS,
            ticks="outside" if bottom_row else "", ticklen=4, tickcolor="#333333",
            showticklabels=bottom_row, tickangle=-90,
            tickfont=dict(size=12.5, color=AXIS_GREY, family=FONT))
        layout_axes["yaxis" if k == 1 else f"yaxis{k}"] = dict(
            domain=[fy(ROW_BOT[r]), fy(ROW_TOP[r])], range=Y_RANGES[sex], anchor=xname,
            showline=True, mirror=True, linecolor=BORDER, linewidth=1,
            showgrid=False, zeroline=False, tickvals=Y_TICKS[sex], tickformat=".1f",
            ticks="outside" if first_col else "", ticklen=4, tickcolor="#333333",
            showticklabels=first_col,
            tickfont=dict(size=12, color=AXIS_GREY, family=FONT))
        if r == 0:
            shapes.append(dict(type="rect", xref="paper", yref="paper",
                               x0=fx(left), x1=fx(left + PANEL_W), y0=fy(ROW_TOP[0]), y1=fy(STRIP_TOP),
                               fillcolor=STRIP_FILL, line=dict(color=BORDER, width=1), layer="below"))
            annotations.append(dict(text=age, xref="paper", yref="paper",
                                    x=fx(left + PANEL_W / 2), y=fy((STRIP_TOP + ROW_TOP[0]) / 2),
                                    showarrow=False, xanchor="center", yanchor="middle",
                                    font=dict(size=13, color="#1A1A1A", family=FONT)))
    shapes.append(dict(type="rect", xref="paper", yref="paper",
                       x0=fx(RSTRIP_L), x1=fx(RSTRIP_R), y0=fy(ROW_BOT[r]), y1=fy(ROW_TOP[r]),
                       fillcolor=STRIP_FILL, line=dict(color=BORDER, width=1), layer="below"))
    annotations.append(dict(text=sex, xref="paper", yref="paper", textangle=90,
                            x=fx((RSTRIP_L + RSTRIP_R) / 2), y=fy((ROW_TOP[r] + ROW_BOT[r]) / 2),
                            showarrow=False, xanchor="center", yanchor="middle",
                            font=dict(size=13, color="#4D4D4D", family=FONT)))

# axis titles
annotations.append(dict(text="PAF of age-standardized DALY", xref="paper", yref="paper",
                        x=fx(35), y=fy(372), textangle=-90, showarrow=False,
                        xanchor="center", yanchor="middle",
                        font=dict(size=17, color="#000000", family=FONT)))
annotations.append(dict(text="Year", xref="paper", yref="paper",
                        x=fx(667), y=fy(752), showarrow=False,
                        xanchor="center", yanchor="middle",
                        font=dict(size=16, color="#000000", family=FONT)))

# manual legend (key x, key y, text x, text y) in pixels
LEGEND_POS = [
    (84, 793, 108, 792),
    (84, 814, 108, 814),
    (245, 791, 269, 790),
    (247, 813, 271, 812),
    (594, 789, 619, 788),
    (595, 814, 618, 813),
    (874, 788, 899, 786),
    (1036, 786, 1061, 784),
]
for s, (kx, ky, tx, ty) in enumerate(LEGEND_POS):
    shapes.append(dict(type="line", xref="paper", yref="paper",
                       x0=fx(kx), x1=fx(kx + 14), y0=fy(ky), y1=fy(ky),
                       line=dict(color=COLORS[s], width=2)))
    annotations.append(dict(text=RISKS[s], xref="paper", yref="paper",
                            x=fx(tx), y=fy(ty), showarrow=False,
                            xanchor="left", yanchor="middle",
                            font=dict(size=12.8, color="#000000", family=FONT)))

# caption (first line justified to the full width with thin extra word spacing)
annotations.append(dict(
    text="<b>Fig.\u00a03</b>\u2002\u2009" + CAPTION_LINE_1.replace(" ", " \u2009"),
    xref="paper", yref="paper", x=fx(16), y=fy(845), showarrow=False,
    xanchor="left", yanchor="middle", font=dict(size=18, color="#222222", family=FONT)))
annotations.append(dict(
    text=CAPTION_LINE_2,
    xref="paper", yref="paper", x=fx(16), y=fy(868), showarrow=False,
    xanchor="left", yanchor="middle", font=dict(size=17.8, color="#222222", family=FONT)))

# outer rounded frame (right side runs off the canvas, as in the reference)
x0, y0, x1, y1, rad = 10, 11, 1300, 880, 14
path = (f"M {fx(x0 + rad)},{fy(y0)} L {fx(x1 - rad)},{fy(y0)} "
        f"Q {fx(x1)},{fy(y0)} {fx(x1)},{fy(y0 + rad)} L {fx(x1)},{fy(y1 - rad)} "
        f"Q {fx(x1)},{fy(y1)} {fx(x1 - rad)},{fy(y1)} L {fx(x0 + rad)},{fy(y1)} "
        f"Q {fx(x0)},{fy(y1)} {fx(x0)},{fy(y1 - rad)} L {fx(x0)},{fy(y0 + rad)} "
        f"Q {fx(x0)},{fy(y0)} {fx(x0 + rad)},{fy(y0)} Z")
shapes.append(dict(type="path", path=path, xref="paper", yref="paper",
                   line=dict(color="#555555", width=1.5), layer="below"))

fig.update_layout(
    width=W, height=H, margin=dict(l=0, r=0, t=0, b=0),
    paper_bgcolor="white", plot_bgcolor="white",
    showlegend=False, shapes=shapes, annotations=annotations,
    font=dict(family=FONT), hovermode=False,
    **layout_axes)

fig.write_html("out.html",
               config={"displayModeBar": False},
               post_script="document.body.style.margin='0px';"
                           "document.body.style.overflow='hidden';")
